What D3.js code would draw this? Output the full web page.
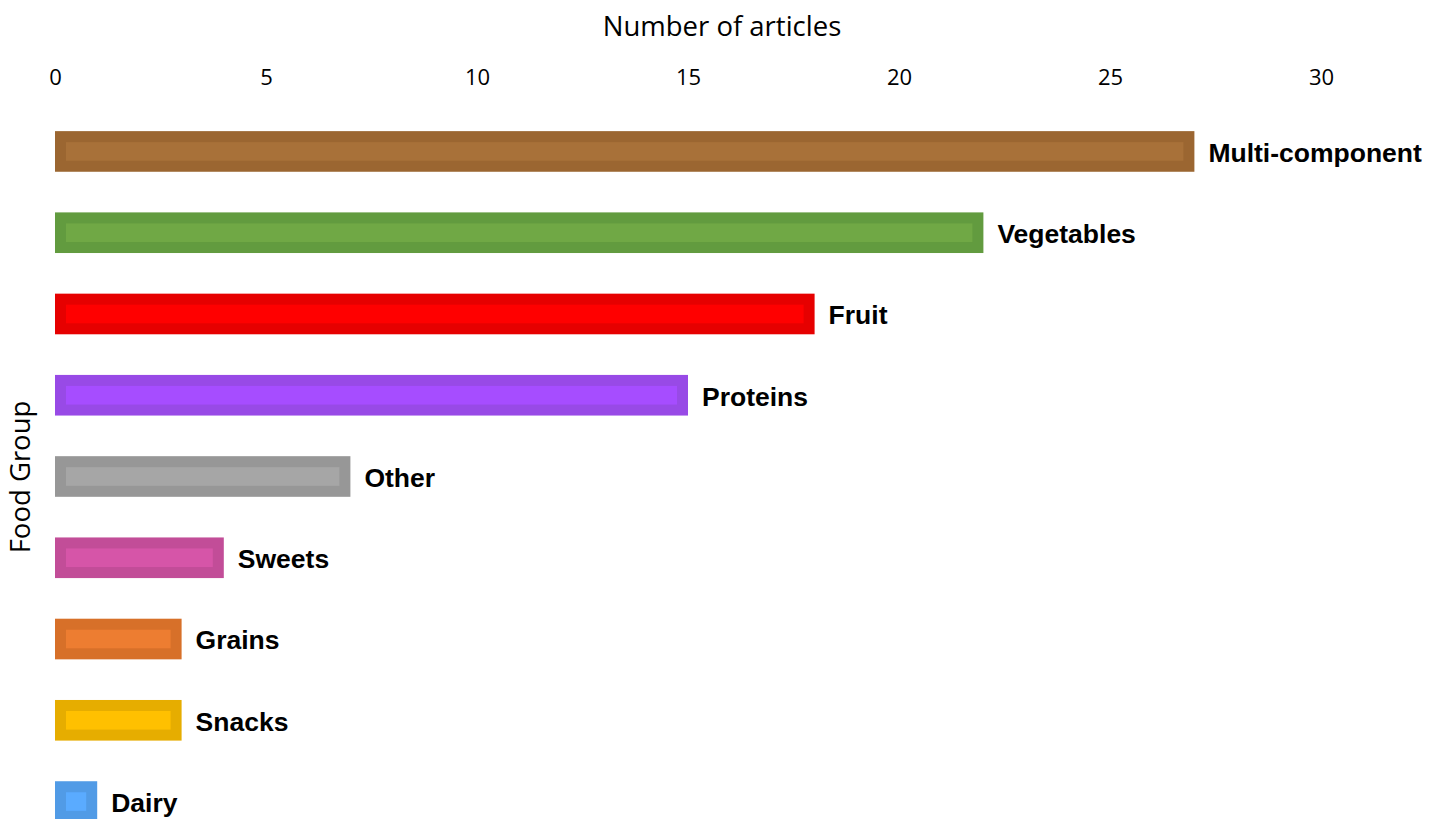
<!DOCTYPE html>
<html>
<head>
<meta charset="utf-8">
<script src="https://cdn.jsdelivr.net/npm/d3@7"></script>
<style>
  html, body { margin: 0; padding: 0; background: #ffffff; overflow: hidden; }
  svg { display: block; }
</style>
</head>
<body>
<svg id="chart"></svg>
<script>
const width = 1442;
const height = 819;

// data
const groups = ["Multi-component", "Vegetables", "Fruit", "Proteins", "Other", "Sweets", "Grains", "Snacks", "Dairy"];
const counts = [27, 22, 18, 15, 7, 4, 3, 3, 1];
const fills = ["#a87139", "#70a845", "#ff0000", "#a64dff", "#a6a6a6", "#d655a8", "#ed7d31", "#ffc000", "#5aabff"];
const borders = ["#9b6631", "#629b3f", "#e60000", "#984ae6", "#979797", "#c24d98", "#d77029", "#e6ad00", "#519be6"];
const xTicks = [0, 5, 10, 15, 20, 25, 30];

const svg = d3.select("#chart").attr("width", width).attr("height", height);

const x = d3.scaleLinear().domain([0, 30]).range([55, 1321]);
const y = d3.scaleBand().domain(groups).range([90.5, 862.5]).padding(0.5);

// x axis on top, labels only
const xAxis = svg.append("g")
    .attr("transform", "translate(0,77)")
    .call(d3.axisTop(x).tickValues(xTicks).tickSize(0).tickPadding(0));
xAxis.select(".domain").remove();
xAxis.selectAll("text")
    .attr("dy", "0.35em")
    .style("font-family", "'Open Sans', sans-serif")
    .style("font-size", "22px")
    .style("fill", "#000");

svg.append("text")
    .attr("x", 722)
    .attr("y", 26)
    .attr("dy", "0.35em")
    .attr("text-anchor", "middle")
    .style("font-family", "'Open Sans', sans-serif")
    .style("font-size", "27.5px")
    .text("Number of articles");

svg.append("text")
    .attr("transform", "translate(20,477) rotate(-90)")
    .attr("dy", "0.35em")
    .attr("text-anchor", "middle")
    .style("font-family", "'Open Sans', sans-serif")
    .style("font-size", "27.5px")
    .text("Food Group");

const bw = 11; // border width inside the bar

const bars = svg.append("g").selectAll("g")
    .data(groups)
    .join("g");

bars.append("rect")
    .attr("x", (d, i) => x(0) + bw / 2)
    .attr("y", d => y(d) + bw / 2)
    .attr("width", (d, i) => x(counts[i]) - x(0) - bw)
    .attr("height", y.bandwidth() - bw)
    .attr("fill", (d, i) => fills[i])
    .attr("stroke", (d, i) => borders[i])
    .attr("stroke-width", bw);

bars.append("text")
    .attr("x", (d, i) => x(counts[i]) + 14)
    .attr("y", d => y(d) + y.bandwidth() / 2 + 1)
    .attr("dy", "0.35em")
    .style("font-family", "'Liberation Sans', Arial, sans-serif")
    .style("font-weight", "bold")
    .style("font-size", "26.5px")
    .text(d => d);
</script>
</body>
</html>
